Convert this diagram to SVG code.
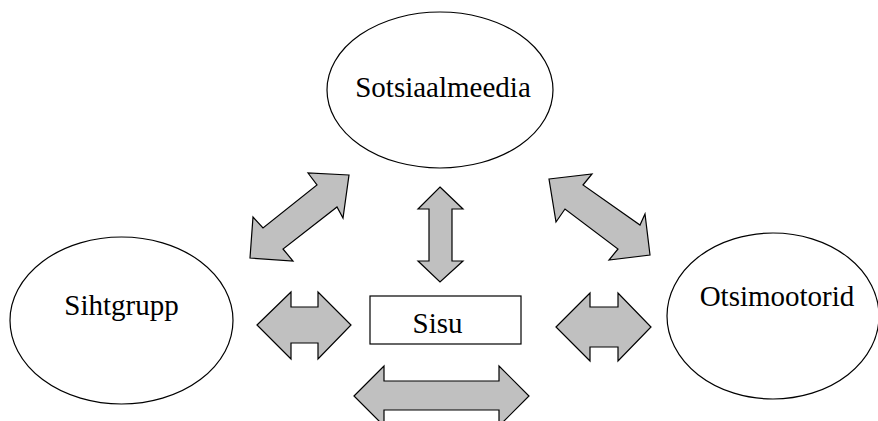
<svg xmlns="http://www.w3.org/2000/svg" width="878" height="421" viewBox="0 0 878 421">
<style>
.n{fill:#fff;stroke:#000;stroke-width:1.2}
.a{fill:#c0c0c0;stroke:#000;stroke-width:1.2;stroke-linejoin:miter}
.t{font-family:"Liberation Serif","Times New Roman",serif;font-size:29px;fill:#000;text-anchor:middle}
</style>
<rect width="878" height="421" fill="#fff"/>
<g id="connectors">
<polygon class="a" points="349,175 308,173 317,185 263,228 253,217 250,258 293,261 283,249 337,207 343,218"/>
<polygon class="a" points="549,179 592,174 583,185 640,225 645,214 650,255 609,260 618,249 565,209 556,222"/>
<polygon class="a" points="440,187 463,209 452,209 452,261 463,261 440,282 418,261 429,261 429,209 418,209"/>
<polygon class="a" points="257,325 291,292 291,307 318,307 318,292 351,325 318,359 318,343 291,343 291,359"/>
<polygon class="a" points="556,327 590,293 590,307 618,307 618,293 651,327 618,361 618,347 590,347 590,361"/>
<polygon class="a" points="354,396 384,366 384,381 499,381 499,366 529,396 499,426 499,410 384,410 384,426"/>
</g>
<g id="sotsiaalmeedia">
<ellipse class="n" cx="440" cy="90" rx="113" ry="78"/>
<text class="t" x="443" y="97">Sotsiaalmeedia</text>
</g>
<g id="sihtgrupp">
<ellipse class="n" cx="121.5" cy="320.5" rx="111.5" ry="83.5"/>
<text class="t" x="121.5" y="315">Sihtgrupp</text>
</g>
<g id="otsimootorid">
<ellipse class="n" cx="773" cy="316" rx="106" ry="83"/>
<text class="t" x="777" y="306">Otsimootorid</text>
</g>
<g id="sisu">
<rect class="n" x="370" y="296" width="151" height="48"/>
<text class="t" x="437.5" y="333">Sisu</text>
</g>
</svg>
